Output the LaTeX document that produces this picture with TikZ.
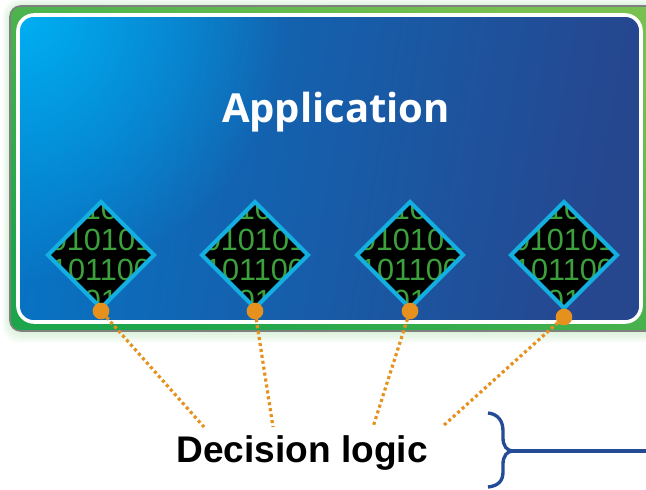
\documentclass[tikz,border=0pt]{standalone}
\usepackage{fontspec}
\setmainfont{Liberation Sans}
\newfontfamily\appfont{Open Sans}
\usetikzlibrary{shapes.geometric,fadings}
\definecolor{dotorange}{RGB}{230,145,30}
\definecolor{bracketblue}{RGB}{35,75,150}
\definecolor{chipblue}{RGB}{20,175,225}
\definecolor{bitgreen}{RGB}{60,160,60}
\definecolor{glowblue}{RGB}{0,175,242}
\tikzfading[name=glowfade,inner color=transparent!0,outer color=transparent!100]
\tikzset{
chip/.style={draw=chipblue,line width=3pt,diamond,aspect=1,inner sep=0pt,outer sep=0pt,minimum width=79.5pt,minimum height=79.5pt,
  fill=black,path picture={\node[text=bitgreen,font=\fontsize{23pt}{23pt}\selectfont,align=center] (bits) at (path picture bounding box.center) {10\\010101\\101100\\01};}},
tapdot/.style={circle,fill=dotorange,inner sep=0pt,outer sep=0pt,minimum size=12.5pt},
tapline/.style={draw=dotorange,line width=2.4pt,dash pattern=on 2.3pt off 2.2pt}
}
\begin{document}
\begin{tikzpicture}[x=.75pt,y=-.75pt]
\clip (0,0) rectangle (646,489);
\useasboundingbox (0,0) rectangle (646,489);
% soft shadow
\foreach \s in {12,10,8,6,4,2}
  \fill[green!60!black,opacity=.025,rounded corners=12pt] (10-.6*\s,6-.6*\s) rectangle (660,331+\s);
% green panel and blue application area
\draw[draw=black!50,line width=1.2pt,rounded corners=8pt,
  bottom color={rgb,255:red,28;green,165;blue,75},middle color={rgb,255:red,65;green,175;blue,78},top color={rgb,255:red,120;green,192;blue,80},shading angle=-25] (10,6) rectangle (660,331);
\begin{scope}
\clip[rounded corners=12pt] (18,15) rectangle (641,322);
\fill[left color={rgb,255:red,8;green,115;blue,195},middle color={rgb,255:red,10;green,104;blue,180},
  right color={rgb,255:red,38;green,70;blue,142},shading angle=80] (18,15) rectangle (641,322);
\fill[glowblue,path fading=glowfade] (18,15) circle (270);
\end{scope}
\draw[draw=white,line width=2.7pt,rounded corners=12pt] (18,15) rectangle (641,322);
\node[text=white,font=\appfont\bfseries\fontsize{30pt}{30pt}\selectfont] (app) at (336,112) {Application};
\node[chip] (chip1) at (101,255) {};
\node[chip] (chip2) at (255,255) {};
\node[chip] (chip3) at (410,255) {};
\node[chip] (chip4) at (564,255) {};
\coordinate (end1) at (204,427);
\coordinate (end2) at (273,427);
\coordinate (end3) at (373,427);
\coordinate (end4) at (443,426);
\node[tapdot] (dot1) at (101,311) {};
\node[tapdot] (dot2) at (255,311) {};
\node[tapdot] (dot3) at (410,311) {};
\node[tapdot] (dot4) at (564,317) {};
\draw[tapline] (dot1) -- (end1);
\draw[tapline] (dot2) -- (end2);
\draw[tapline] (dot3) -- (end3);
\draw[tapline] (dot4) -- (end4);
\node[font=\bfseries\fontsize{27.8pt}{28pt}\selectfont] (logic) at (302,453) {Decision logic};
% bracket
\coordinate (top) at (488,413);
\coordinate (tip) at (513,451);
\coordinate (bot) at (488,487);
\coordinate (out) at (646,451);
\draw[draw=bracketblue,line width=2.5pt] (top) .. controls (498,414) and (503,421) .. (503,431) -- (503,438) .. controls (503,446) and (507,451) .. (tip)
  .. controls (507,451) and (503,456) .. (503,464) -- (503,472) .. controls (503,481) and (498,486) .. (bot);
\draw[draw=bracketblue,line width=2.5pt] (tip) -- (out);
\end{tikzpicture}
\end{document}
